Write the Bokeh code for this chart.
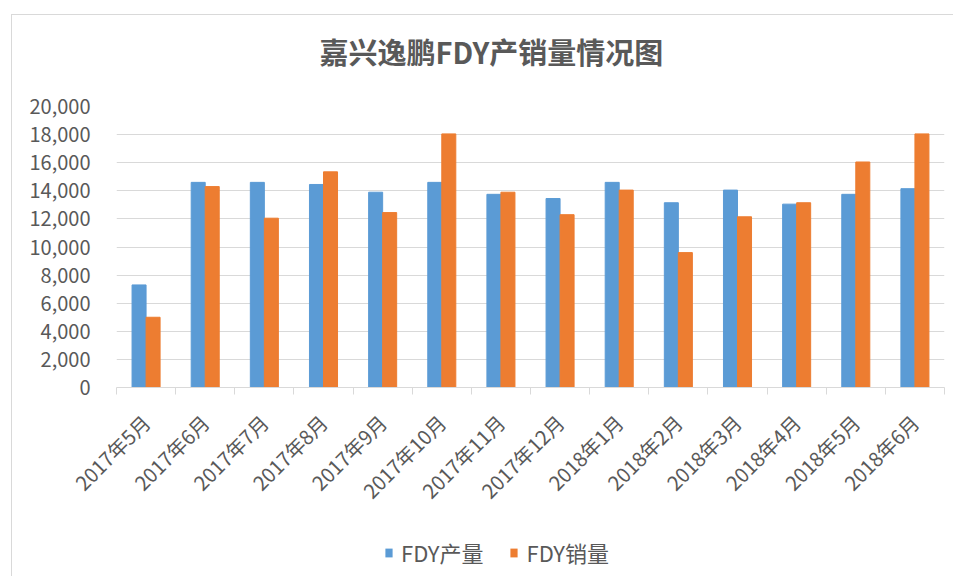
import math
from bokeh.plotting import figure
from bokeh.layouts import column
from bokeh.models import (Range1d, FixedTicker, NumeralTickFormatter, Legend, LegendItem, Title)
from bokeh.embed import file_html
from bokeh.resources import INLINE

categories = ["2017年5月", "2017年6月", "2017年7月", "2017年8月", "2017年9月", "2017年10月",
              "2017年11月", "2017年12月", "2018年1月", "2018年2月", "2018年3月", "2018年4月",
              "2018年5月", "2018年6月"]
production = [7300, 14600, 14600, 14450, 13900, 14600, 13750, 13450, 14600, 13150, 14050, 13050, 13750, 14150]
sales = [5000, 14300, 12050, 15350, 12450, 18050, 13900, 12300, 14050, 9600, 12150, 13150, 16050, 18050]
y_ticks = [0, 2000, 4000, 6000, 8000, 10000, 12000, 14000, 16000, 18000, 20000]
series_names = ["FDY产量", "FDY销量"]
title_text = "嘉兴逸鹏FDY产销量情况图"

FONT = "Noto Sans CJK SC"
TXT = "#595959"
GRID = "#D9D9D9"
BLUE = "#5B9BD5"
ORANGE = "#ED7D31"

n = len(categories)
centers = [i + 0.5 for i in range(n)]
bw = 0.237
x_blue = [c - bw / 2 for c in centers]
x_orange = [c + bw / 2 for c in centers]

p = figure(frame_width=827, frame_height=280, output_backend="svg", toolbar_location=None,
           x_range=Range1d(0, n), y_range=Range1d(0, 20000),
           min_border_left=104, min_border_right=10, min_border_top=91, min_border_bottom=150)
p.margin = (14, 0, 0, 11)
p.styles = {"border-left": "1px solid #D9D9D9", "border-top": "1px solid #D9D9D9"}

p.title.text = title_text
p.title.text_font = FONT
p.title.text_font_size = "29px"
p.title.text_font_style = "bold"
p.title.text_color = TXT
p.title.align = "left"
p.title.offset = 203
p.title.vertical_align = "top"
p.title.standoff = 0

# empty spacer between title and plot area
p.add_layout(Title(text=" ", text_font_size="2px", standoff=29), "above")

r1 = p.vbar(x=x_blue, top=production, width=bw, color=BLUE, line_color=BLUE)
r2 = p.vbar(x=x_orange, top=sales, width=bw, color=ORANGE, line_color=ORANGE)

p.outline_line_color = None
p.background_fill_color = "white"
p.border_fill_color = "white"

# y axis
p.yaxis.ticker = FixedTicker(ticks=y_ticks)
p.yaxis.formatter = NumeralTickFormatter(format="0,0")
p.yaxis.axis_line_color = None
p.yaxis.major_tick_line_color = None
p.yaxis.minor_tick_line_color = None
p.yaxis.major_label_standoff = 20
p.yaxis.major_label_text_font = FONT
p.yaxis.major_label_text_font_size = "20px"
p.yaxis.major_label_text_color = TXT

p.ygrid.ticker = FixedTicker(ticks=y_ticks)
p.ygrid.grid_line_color = GRID
p.ygrid.grid_line_width = 1
p.xgrid.grid_line_color = None

# x axis
p.xaxis.ticker = FixedTicker(ticks=centers, minor_ticks=list(range(n + 1)))
p.xaxis.major_label_overrides = {c: lab for c, lab in zip(centers, categories)}
p.xaxis.major_label_orientation = math.pi / 4
p.xaxis.axis_line_color = GRID
p.xaxis.major_tick_in = 0
p.xaxis.major_tick_out = 0
p.xaxis.minor_tick_in = 0
p.xaxis.minor_tick_out = 7
p.xaxis.minor_tick_line_color = GRID
p.xaxis.major_label_standoff = 24
p.xaxis.major_label_text_font = FONT
p.xaxis.major_label_text_font_size = "20px"
p.xaxis.major_label_text_color = TXT

# legend strip below the chart (zero-height proxy glyphs carry the legend colours)
lf = figure(width=941, height=40, output_backend="svg", toolbar_location=None,
            x_range=Range1d(0, 1), y_range=Range1d(0, 1),
            x_axis_location=None, y_axis_location=None,
            min_border_left=0, min_border_right=0, min_border_top=0, min_border_bottom=0)
lf.margin = (0, 0, 0, 11)
lf.styles = {"border-left": "1px solid #D9D9D9"}
lf.outline_line_color = None
lf.xgrid.grid_line_color = None
lf.ygrid.grid_line_color = None
lf.background_fill_color = "white"
lf.border_fill_color = "white"
g1 = lf.vbar(x=[0.5], top=[0], bottom=[0], width=0.0, fill_color=BLUE, line_color=None)
g2 = lf.vbar(x=[0.5], top=[0], bottom=[0], width=0.0, fill_color=ORANGE, line_color=None)

legend = Legend(items=[LegendItem(label=series_names[0], renderers=[g1]),
                       LegendItem(label=series_names[1], renderers=[g2])],
                orientation="horizontal", location=(268, 8),
                label_text_font=FONT, label_text_font_size="22px", label_text_color=TXT,
                glyph_width=9, glyph_height=11, spacing=26, label_standoff=8,
                padding=0, margin=0,
                border_line_color=None, background_fill_color=None)
lf.add_layout(legend)

layout = column(p, lf, spacing=0)
open("out.html", "w").write(file_html(layout, INLINE))
